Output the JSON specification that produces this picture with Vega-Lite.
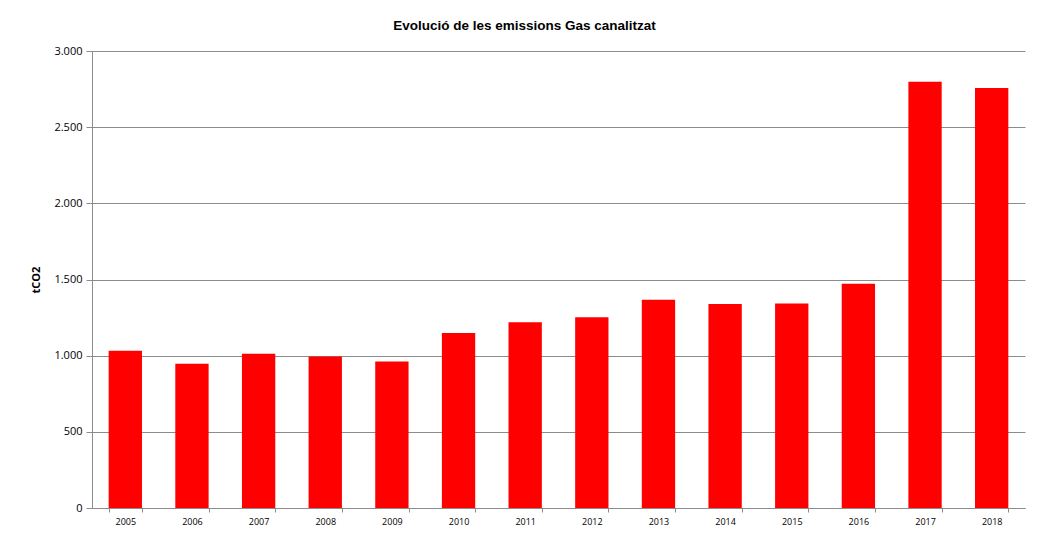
{
  "$schema": "https://vega.github.io/schema/vega-lite/v6.json",
  "width": 933,
  "height": 457,
  "autosize": {"type": "none"},
  "padding": {"left": 92, "top": 51, "right": 19, "bottom": 25},
  "background": "white",
  "title": {
    "text": "Evolució de les emissions Gas canalitzat",
    "font": "Liberation Sans",
    "fontSize": 13.5,
    "fontWeight": "bold",
    "color": "#000000",
    "anchor": "middle",
    "dx": -34,
    "offset": 13
  },
  "data": {
    "values": [
      {"year": "2005", "tCO2": 1032},
      {"year": "2006", "tCO2": 947},
      {"year": "2007", "tCO2": 1012},
      {"year": "2008", "tCO2": 995},
      {"year": "2009", "tCO2": 962},
      {"year": "2010", "tCO2": 1148},
      {"year": "2011", "tCO2": 1220},
      {"year": "2012", "tCO2": 1253},
      {"year": "2013", "tCO2": 1367},
      {"year": "2014", "tCO2": 1339},
      {"year": "2015", "tCO2": 1343},
      {"year": "2016", "tCO2": 1472},
      {"year": "2017", "tCO2": 2798},
      {"year": "2018", "tCO2": 2757}
    ]
  },
  "mark": {"type": "bar", "color": "#ff0000"},
  "encoding": {
    "x": {
      "field": "year",
      "type": "ordinal",
      "scale": {"paddingInner": 0.5, "paddingOuter": 0.25},
      "axis": {
        "title": null,
        "labelAngle": 0,
        "labelFont": "Open Sans",
        "labelFontSize": 9,
        "labelColor": "#000000",
        "labelPadding": 5,
        "tickBand": "extent",
        "ticks": true,
        "tickSize": 4,
        "tickColor": "#8c8c8c",
        "domainColor": "#8c8c8c",
        "grid": false
      }
    },
    "y": {
      "field": "tCO2",
      "type": "quantitative",
      "scale": {"domain": [0, 3000], "nice": false},
      "axis": {
        "title": "tCO2",
        "titleFont": "Open Sans",
        "titleFontSize": 11,
        "titleFontWeight": "bold",
        "titleColor": "#000000",
        "titlePadding": 12,
        "values": [0, 500, 1000, 1500, 2000, 2500, 3000],
        "labelExpr": "replace(format(datum.value, ','), ',', '.')",
        "labelFont": "Open Sans",
        "labelFontSize": 11,
        "labelColor": "#000000",
        "labelPadding": 4,
        "tickSize": 6,
        "tickColor": "#8c8c8c",
        "domainColor": "#8c8c8c",
        "grid": true,
        "gridColor": "#8c8c8c",
        "gridOpacity": 1
      }
    }
  },
  "config": {"view": {"stroke": null}}
}
